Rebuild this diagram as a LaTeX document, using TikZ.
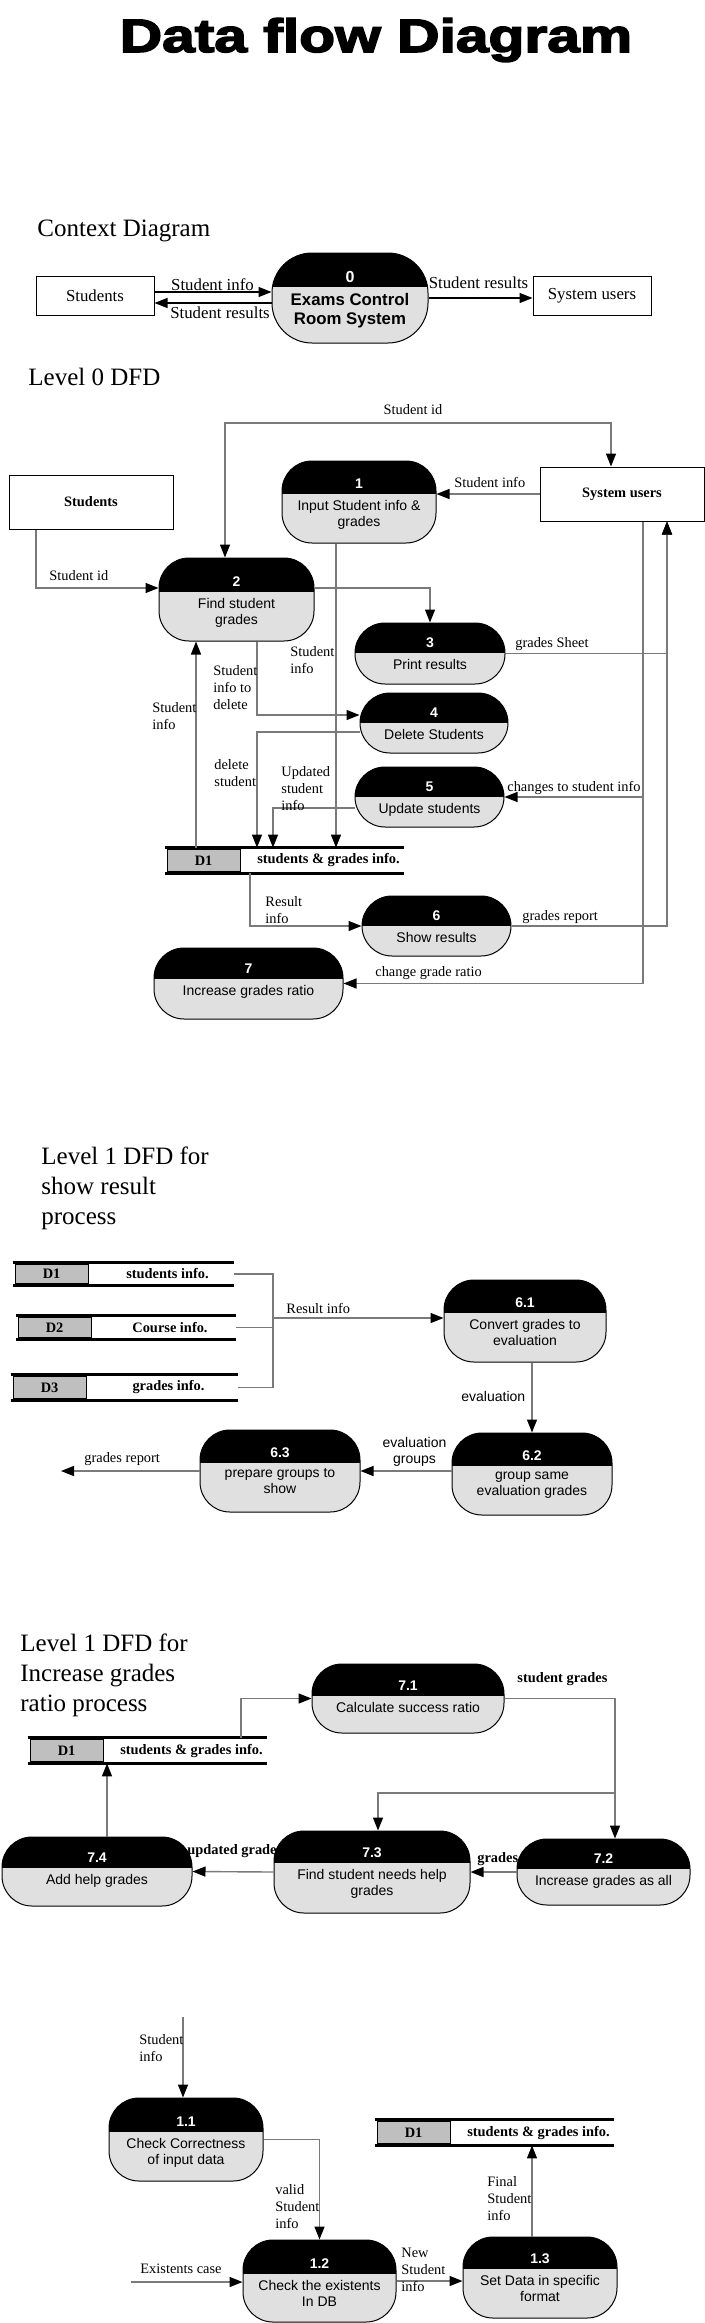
\documentclass[tikz,border=0pt]{standalone}
\usepackage{fontspec}
\setmainfont{Liberation Serif}
\newfontfamily\dfdsans{Liberation Sans}
\newfontfamily\dfdheavy[BoldFeatures={FakeBold=3}]{Liberation Sans}
\usetikzlibrary{arrows.meta,positioning,calc}
\definecolor{flowgray}{HTML}{7A7A7A}
\tikzset{
    dfdtitle/.style={font=\dfdheavy\bfseries\fontsize{23.5}{26}\selectfont, inner sep=0pt},
    dfdhead/.style={font=\fontsize{12.5}{15}\selectfont, align=left, anchor=west, inner sep=0pt},
    dfdproc/.style={draw, line width=0.5pt, fill=gray!24, rounded corners=15pt, inner sep=0pt},
    dfdnum/.style={text=white, font=\dfdsans\bfseries\fontsize{7}{8}\selectfont, inner sep=0pt},
    dfdtext/.style={font=\dfdsans\fontsize{7}{8}\selectfont, align=center, anchor=north, inner sep=1pt},
    ctxproc/.style={dfdproc, rounded corners=20pt},
    ctxnum/.style={dfdnum, font=\dfdsans\bfseries\fontsize{8}{9}\selectfont},
    ctxtext/.style={dfdtext, font=\dfdsans\bfseries\fontsize{8.4}{9.5}\selectfont, inner sep=1pt},
    dfdentity/.style={draw, line width=0.5pt, inner sep=0pt, font=\fontsize{8.4}{10}\selectfont},
    dfdbold/.style={dfdentity, font=\bfseries\fontsize{7.2}{8.5}\selectfont},
    dfdstore/.style={inner sep=0pt},
    storeline/.style={line width=1.4pt, black},
    storeid/.style={draw, line width=0.5pt, fill=gray!50, minimum width=36.5pt, inner sep=0pt, font=\bfseries\fontsize{7.2}{8.5}\selectfont},
    storetext/.style={inner sep=0pt, font=\bfseries\fontsize{7.2}{8.5}\selectfont},
    dfdflow/.style={draw=flowgray, line width=0.7pt, ->},
    dfdline/.style={draw=flowgray, line width=0.7pt},
    ctxflow/.style={draw=black, line width=0.6pt, ->},
    dfdlabel/.style={font=\fontsize{7.2}{8.5}\selectfont, inner sep=0pt, align=left, anchor=west},
    ctxlabel/.style={font=\fontsize{8.4}{10}\selectfont, inner sep=0pt},
    sanslabel/.style={font=\dfdsans\fontsize{7}{8}\selectfont, inner sep=0pt, align=center},
    boldlabel/.style={dfdlabel, font=\bfseries\fontsize{7.2}{8.5}\selectfont}
}
% process: [style prefix] name, centre, width, height, band, number, text (sizes in px)
\newcommand{\dfdprocess}[8][dfd]{%
    \node[#1proc, minimum width=#4*0.5pt, minimum height=#5*0.5pt,
        path picture={\fill[black, sharp corners] (path picture bounding box.north west) rectangle ([yshift=-#6*0.5pt]path picture bounding box.north east);}] (#2) at (#3) {};
    \node[#1num] (#2n) at ([yshift=-#6*0.5pt+5pt]#2.north) {#7};
    \node[#1text] (#2t) at ([yshift=-#6*0.5pt-2pt]#2.north) {#8};
}
% data store: name, centre, width, height, id, text
\newcommand{\dfdstorenode}[6]{%
    \node[dfdstore, minimum width=#3*0.5pt, minimum height=#4*0.5pt] (#1) at (#2) {};
    \draw[storeline] (#1.north west) -- (#1.north east) (#1.south west) -- (#1.south east);
    \node[storeid, minimum height=(#4-3)*0.5pt, anchor=west] (#1id) at ([xshift=1pt]#1.west) {#5};
    \node[storetext] (#1t) at ($(#1id.east)!0.5!(#1.east)+(6,0)$) {#6};
}
\begin{document}
\begin{tikzpicture}[x=0.5pt, y=-0.5pt, >={Triangle[length=6.5pt, width=5pt, black]}]
    \useasboundingbox (0,0) rectangle (705,2323);
    \node[dfdtitle] (title) at (376,40) {\scalebox{1.25}[1]{Data flow Diagram}};

    % context diagram
    \node[dfdhead] (ctxhead) at (37,231) {Context Diagram};
    \node[dfdentity, minimum width=59pt, minimum height=19.5pt] (cstud) at (95,295.5) {Students};
    \node[dfdentity, minimum width=59pt, minimum height=19.5pt] (cusers) at (592,295.5) {System users};
    \dfdprocess[ctx]{p0}{350,298}{156}{90}{34}{0}{Exams Control\\Room System}
    \coordinate (c1) at ([yshift=1.75pt]cstud.east);
    \coordinate (c2) at ([yshift=-3.75pt]cstud.east);
    \draw[ctxflow] (c1) -- (c1 -| p0.west);
    \draw[ctxflow] (c2 -| p0.west) -- (c2);
    \draw[ctxflow] (p0.east) -- (p0.east -| cusers.west);
    \node[ctxlabel] (lsi) at (212.5,285) {Student info};
    \node[ctxlabel] (lsr) at (220,313) {Student results};
    \node[ctxlabel] (lsr2) at (478.5,283) {Student results};

    % level 0
    \node[dfdhead] (l0head) at (28,377) {Level 0 DFD};
    \node[dfdbold, minimum width=82pt, minimum height=27pt] (stud) at (91,502) {Students};
    \node[dfdbold, minimum width=82pt, minimum height=27pt] (users) at (622,494) {System users};
    \dfdprocess{p1}{359,502}{154}{82}{33}{1}{Input Student info \&\\grades}
    \dfdprocess{p2}{236.5,599.5}{155}{83}{34}{2}{Find student\\grades}
    \dfdprocess{p3}{430,653.5}{150}{61}{30}{3}{Print results}
    \dfdprocess{p4}{434,723}{148}{60}{30}{4}{Delete Students}
    \dfdprocess{p5}{429.5,797}{149}{60}{30}{5}{Update students}
    \dfdprocess{p6}{436.5,926}{149}{60}{30}{6}{Show results}
    \dfdprocess{p7}{248.5,983.5}{189}{71}{31}{7}{Increase grades ratio}
    \dfdstorenode{d1}{284.5,860.5}{239}{25}{D1}{students \& grades info.}

    \coordinate (sidtop) at (400,423);
    \draw[dfdflow, <->] ([xshift=-5.75pt]p2.north) |- (sidtop) -| ([xshift=-5.5pt]users.north);
    \draw[dfdflow] (users.west) -- (users.west -| p1.east);
    \coordinate (p1d) at ([xshift=-11.5pt]p1.south);
    \draw[dfdflow] (p1d) -- (p1d |- d1.north);
    \draw[dfdflow] ([xshift=-27.5pt]stud.south) |- ([yshift=5.75pt]p2.west);
    \draw[dfdflow] ([yshift=5.75pt]p2.east) -| (p3.north);
    \coordinate (ucol) at ([xshift=22.5pt]users.south);
    \coordinate (ucol2) at ([xshift=10.5pt]users.south);
    \draw[dfdflow] (p3.east) -| (ucol);
    \draw[dfdflow] (p6.east) -| (ucol);
    \draw[dfdflow] (ucol2) |- (p5.east);
    \draw[dfdflow] (ucol2) |- (p7.east);
    \draw[dfdflow] ([xshift=10.25pt]p2.south) |- ([yshift=4pt]p4.west);
    \draw[dfdflow] ([yshift=-4.5pt]p4.west) -| ([xshift=-13.75pt]d1.north);
    \draw[dfdflow] ([yshift=-5.5pt]p5.west) -| ([xshift=-5.75pt]d1.north);
    \draw[dfdflow] ([xshift=-44.25pt]d1.north) -- ([xshift=-20.25pt]p2.south);
    \draw[dfdflow] ([xshift=-17.25pt]d1.south) |- (p6.west);

    \node[dfdlabel, anchor=center] (lid1) at (413,410) {Student id};
    \node[dfdlabel] (lsi1) at (454,482) {Student info};
    \node[dfdlabel] (lid2) at (49,576) {Student id};
    \node[dfdlabel] (lsi2) at (290,660) {Student\\info};
    \node[dfdlabel] (lsid) at (213,688) {Student\\info to\\delete};
    \node[dfdlabel] (lsi3) at (152,716.5) {Student\\info};
    \node[dfdlabel] (ldel) at (214,773.5) {delete\\student};
    \node[dfdlabel] (lupd) at (281,789) {Updated\\student\\info};
    \node[dfdlabel] (lgs) at (515,644) {grades Sheet};
    \node[dfdlabel] (lchg) at (507,788) {changes to student info};
    \node[dfdlabel] (lres) at (265,910.5) {Result\\info};
    \node[dfdlabel] (lgr) at (522,917) {grades report};
    \node[dfdlabel] (lcgr) at (375,973) {change grade ratio};

    % level 1, show result
    \node[dfdhead] (l1ahead) at (41,1188) {Level 1 DFD for\\show result\\process};
    \dfdstorenode{s1}{123.5,1274}{221}{22}{D1}{students info.}
    \dfdstorenode{s2}{126,1327.5}{220}{23}{D2}{Course info.}
    \dfdstorenode{s3}{124.5,1387.5}{227}{25}{D3}{grades info.}
    \dfdprocess{p61}{525,1321}{162}{82}{33}{6.1}{Convert grades to\\evaluation}
    \dfdprocess{p62}{532,1474}{160}{82}{33}{6.2}{group same\\evaluation grades}
    \dfdprocess{p63}{280,1471}{160}{82}{33}{6.3}{prepare groups to\\show}
    \coordinate (jn) at (273,1318);
    \draw[dfdline] (s1.east) -| (jn) |- (s3.east);
    \draw[dfdline] (s2.east) -- (s2.east -| jn);
    \draw[dfdflow] (jn) -- (jn -| p61.west);
    \draw[dfdflow] ([xshift=3.5pt]p61.south) -- (p62.north);
    \draw[dfdflow] (p63.east -| p62.west) -- (p63.east);
    \coordinate (gout) at (61,1471);
    \draw[dfdflow] (p63.west) -- (gout);
    \node[dfdlabel] (lri) at (286,1308) {Result info};
    \node[sanslabel, anchor=west] (lev) at (461,1396) {evaluation};
    \node[sanslabel] (levg) at (414.5,1451.5) {evaluation\\groups};
    \node[dfdlabel] (lgrr) at (84,1459) {grades report};

    % level 1, increase grades ratio
    \node[dfdhead] (l1bhead) at (20,1675) {Level 1 DFD for\\Increase grades\\ratio process};
    \dfdstorenode{i1}{147.5,1750.5}{239}{25}{D1}{students \& grades info.}
    \dfdprocess{p71}{408,1698.5}{192}{69}{32}{7.1}{Calculate success ratio}
    \dfdprocess{p72}{603.5,1872}{173}{66}{30}{7.2}{Increase grades as all}
    \dfdprocess{p73}{372,1872}{196}{82}{32}{7.3}{Find student needs help\\grades}
    \dfdprocess{p74}{97,1871.5}{190}{69}{31}{7.4}{Add help grades}
    \draw[dfdflow] ([xshift=46.75pt]i1.north) |- (p71.west);
    \draw[dfdflow] (p71.east) -| ([xshift=5.75pt]p72.north);
    \coordinate (br) at (615,1793);
    \draw[dfdflow] (br) -| ([xshift=3pt]p73.north);
    \draw[dfdflow] (p72.west) -- (p73.east);
    \draw[dfdflow] (p73.west) -- (p74.east);
    \draw[dfdflow] ([xshift=5pt]p74.north) -- ([xshift=-20.25pt]i1.south);
    \node[boldlabel] (lsg) at (517,1679) {student grades};
    \node[boldlabel] (lgrd) at (477,1859) {grades};
    \node[boldlabel] (lupg) at (187,1851) {updated grades};

    % process 1 detail
    \dfdprocess{p11}{186,2139.5}{154}{83}{34}{1.1}{Check Correctness\\of input data}
    \dfdprocess{p12}{319.5,2281}{153}{82}{34}{1.2}{Check the existents\\In DB}
    \dfdprocess{p13}{540,2277.5}{154}{81}{32}{1.3}{Set Data in specific\\format}
    \dfdstorenode{f1}{494.5,2132.5}{239}{25}{D1}{students \& grades info.}
    \coordinate (sin) at (183,2017);
    \draw[dfdflow] (sin) -- ([xshift=-1.5pt]p11.north);
    \draw[dfdflow] (p11.east) -| (p12.north);
    \coordinate (ein) at (131,2282);
    \draw[dfdflow] (ein) -- (ein -| p12.west);
    \draw[dfdflow] (p12.east) -- (p12.east -| p13.west);
    \draw[dfdflow] ([xshift=-4pt]p13.north) -- ([xshift=18.75pt]f1.south);
    \node[dfdlabel] (lsi4) at (139,2048.5) {Student\\info};
    \node[dfdlabel] (lval) at (275,2207) {valid\\Student\\info};
    \node[dfdlabel] (lex) at (140,2269) {Existents case};
    \node[dfdlabel] (lnew) at (401,2270) {New\\Student\\info};
    \node[dfdlabel] (lfin) at (487,2199) {Final\\Student\\info};
\end{tikzpicture}
\end{document}
